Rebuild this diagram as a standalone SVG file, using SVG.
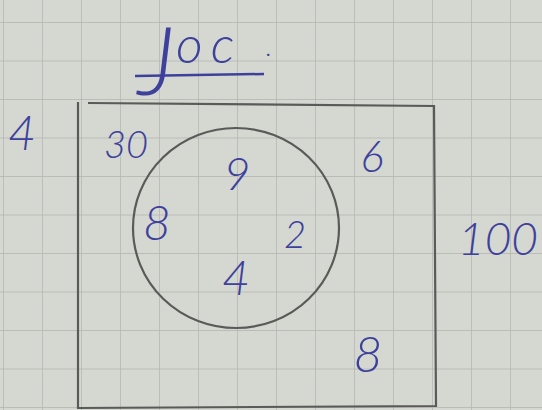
<svg xmlns="http://www.w3.org/2000/svg" width="542" height="410" viewBox="0 0 542 410">
<defs>
<pattern id="grid" x="3" y="22" width="39" height="38.5" patternUnits="userSpaceOnUse">
<path d="M0 0 H39 M0 0 V38.5" fill="none" stroke="#b2b4af" stroke-width="1.4"/>
</pattern>
</defs>
<style>
.ink{font-family:"Lato","Open Sans",sans-serif;font-weight:300;fill:#3d419c;font-style:italic}
.n{text-anchor:middle}
.pencil{fill:none;stroke:#5a5b58;stroke-width:2.2}
</style>
<rect width="542" height="410" fill="#d5d7d1"/>
<rect width="542" height="410" fill="url(#grid)"/>
<g id="title">
<text class="ink" x="138" y="95" font-size="94">J</text>
<text class="ink" x="176" y="63" font-size="52" letter-spacing="8">oc</text>
<text class="ink" x="266" y="56" font-size="26">.</text>
<line x1="135" y1="76" x2="264" y2="74" stroke="#3d419c" stroke-width="2.5"/>
</g>
<g id="universe">
<path class="pencil" d="M78 102 L78 408 L436 406 L434 106 L88 103"/>
</g>
<g id="set">
<ellipse class="pencil" cx="236" cy="228" rx="103" ry="100"/>
</g>
<g id="labels">
<text class="ink n" x="22" y="150" font-size="48">4</text>
<text class="ink n" x="126" y="158" font-size="38">30</text>
<text class="ink n" x="372" y="172" font-size="44">6</text>
<text class="ink n" x="237" y="190" font-size="46">9</text>
<text class="ink n" x="157" y="240" font-size="48">8</text>
<text class="ink n" x="295" y="248" font-size="38">2</text>
<text class="ink n" x="236" y="295" font-size="48">4</text>
<text class="ink n" x="498" y="255" font-size="46">100</text>
<text class="ink n" x="368" y="372" font-size="50">8</text>
</g>
</svg>
